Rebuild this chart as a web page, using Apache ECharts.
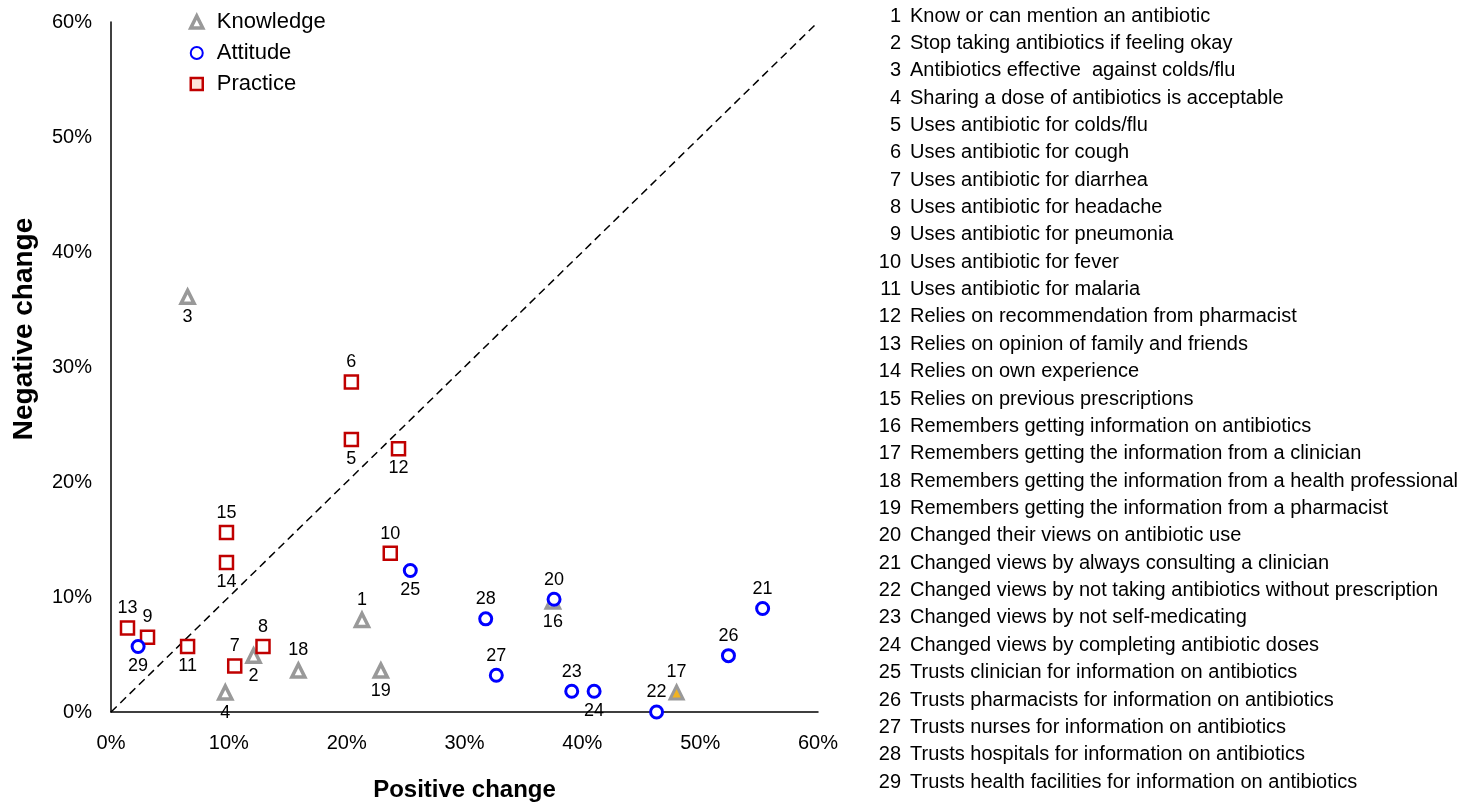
<!DOCTYPE html>
<html>
<head>
<meta charset="utf-8">
<script src="https://cdn.jsdelivr.net/npm/echarts@6/dist/echarts.min.js"></script>
<style>html,body{margin:0;padding:0;background:#fff;overflow:hidden;}#chart{width:1468px;height:803px;}</style>
</head>
<body>
<div id="chart"></div>
<script>
// ---- data ----
const tickLabels = ['0%','10%','20%','30%','40%','50%','60%'];

const knowledgeIds = [1, 2, 3, 4, 16, 17, 18, 19];
const knowledgeX   = [21.3, 12.1, 6.5, 9.7, 37.5, 48.0, 15.9, 22.9];
const knowledgeY   = [8.0, 4.9, 36.1, 1.7, 9.6, 1.7, 3.6, 3.6];

const attitudeIds = [20, 21, 22, 23, 24, 25, 26, 27, 28, 29];
const attitudeX   = [37.6, 55.3, 46.3, 39.1, 41.0, 25.4, 52.4, 32.7, 31.8, 2.3];
const attitudeY   = [9.8, 9.0, 0.0, 1.8, 1.8, 12.3, 4.9, 3.2, 8.1, 5.7];

const practiceIds = [5, 6, 7, 8, 9, 10, 11, 12, 13, 14, 15];
const practiceX   = [20.4, 20.4, 10.5, 12.9, 3.1, 23.7, 6.5, 24.4, 1.4, 9.8, 9.8];
const practiceY   = [23.7, 28.7, 4.0, 5.7, 6.5, 13.8, 5.7, 22.9, 7.3, 13.0, 15.6];

// items whose number label sits below the marker
const labelsBelow = [2, 3, 4, 5, 11, 12, 14, 16, 19, 24, 25, 29];

const itemNames = [
  'Know or can mention an antibiotic',
  'Stop taking antibiotics if feeling okay',
  'Antibiotics effective  against colds/flu',
  'Sharing a dose of antibiotics is acceptable',
  'Uses antibiotic for colds/flu',
  'Uses antibiotic for cough',
  'Uses antibiotic for diarrhea',
  'Uses antibiotic for headache',
  'Uses antibiotic for pneumonia',
  'Uses antibiotic for fever',
  'Uses antibiotic for malaria',
  'Relies on recommendation from pharmacist',
  'Relies on opinion of family and friends',
  'Relies on own experience',
  'Relies on previous prescriptions',
  'Remembers getting information on antibiotics',
  'Remembers getting the information from a clinician',
  'Remembers getting the information from a health professional',
  'Remembers getting the information from a pharmacist',
  'Changed their views on antibiotic use',
  'Changed views by always consulting a clinician',
  'Changed views by not taking antibiotics without prescription',
  'Changed views by not self-medicating',
  'Changed views by completing antibiotic doses',
  'Trusts clinician for information on antibiotics',
  'Trusts pharmacists for information on antibiotics',
  'Trusts nurses for information on antibiotics',
  'Trusts hospitals for information on antibiotics',
  'Trusts health facilities for information on antibiotics'
];

const diagonal = [[0, 0], [60, 60]];

// ---- build ----
const FONT = '"Liberation Sans", Arial, Helvetica, sans-serif';

function build(ids, xs, ys, special) {
  return ids.map((id, i) => {
    const d = {
      value: [xs[i], ys[i], id],
      label: { position: labelsBelow.indexOf(id) >= 0 ? 'bottom' : 'top' }
    };
    if (special && special[id]) d.itemStyle = special[id];
    return d;
  });
}

const labelCommon = {
  show: true,
  formatter: p => String(p.value[2]),
  color: '#000',
  fontSize: 18,
  fontFamily: FONT,
  distance: 3
};

const chart = echarts.init(document.getElementById('chart'), null, { renderer: 'canvas' });

const listGraphics = [];
itemNames.forEach((name, i) => {
  const yc = 16 + i * 27.36;
  listGraphics.push({
    type: 'text', x: 901, y: yc, silent: true,
    style: { text: String(i + 1), fill: '#000', font: '20px ' + FONT, align: 'right', verticalAlign: 'middle' }
  });
  listGraphics.push({
    type: 'text', x: 910, y: yc, silent: true,
    style: { text: name, fill: '#000', font: '20px ' + FONT, align: 'left', verticalAlign: 'middle' }
  });
});
listGraphics.push({
  type: 'text', x: 24, y: 329, rotation: Math.PI / 2, silent: true,
  style: { text: 'Negative change', fill: '#000', font: 'bold 28px ' + FONT, align: 'center', verticalAlign: 'middle' }
});

chart.setOption({
  animation: false,
  backgroundColor: '#fff',
  grid: { left: 111, right: 650, top: 22, bottom: 91, containLabel: false, outerBoundsMode: 'none' },
  legend: {
    orient: 'vertical',
    left: 189,
    top: 11,
    padding: 0,
    itemGap: 9,
    itemWidth: 12,
    itemHeight: 12,
    textStyle: { fontSize: 22, color: '#000', fontFamily: FONT, padding: [0, 0, 0, 9] },
    data: [
      { name: 'Knowledge', itemStyle: { color: '#fff', borderColor: '#999', borderWidth: 3.5 } },
      { name: 'Attitude' },
      { name: 'Practice', itemStyle: { color: '#fde6dc', borderColor: '#c00000', borderWidth: 2.5 } }
    ]
  },
  xAxis: {
    type: 'value', min: 0, max: 60, interval: 10,
    name: 'Positive change', nameLocation: 'middle', nameGap: 66,
    nameTextStyle: { fontSize: 24, fontWeight: 'bold', color: '#000', fontFamily: FONT },
    axisLine: { show: true, lineStyle: { color: '#000', width: 1.5 } },
    axisTick: { show: false },
    splitLine: { show: false },
    axisLabel: { formatter: v => tickLabels[Math.round(v / 10)], fontSize: 20, color: '#000', margin: 21, fontFamily: FONT }
  },
  yAxis: {
    type: 'value', min: 0, max: 60, interval: 10,
    axisLine: { show: true, lineStyle: { color: '#000', width: 1.5 } },
    axisTick: { show: false },
    splitLine: { show: false },
    axisLabel: { formatter: v => tickLabels[Math.round(v / 10)], fontSize: 20, color: '#000', margin: 19, fontFamily: FONT }
  },
  graphic: listGraphics,
  series: [
    {
      type: 'line', data: diagonal, symbol: 'none', silent: true,
      lineStyle: { color: '#000', width: 1.5, type: [8, 5] }, z: 1
    },
    {
      name: 'Knowledge', type: 'scatter', symbol: 'triangle', symbolSize: 13,
      itemStyle: { color: '#fff', borderColor: '#999', borderWidth: 3.5, opacity: 1 },
      label: labelCommon,
      data: build(knowledgeIds, knowledgeX, knowledgeY, { 17: { color: '#f0b323', borderColor: '#999', borderWidth: 3, opacity: 1 } }),
      z: 3
    },
    {
      name: 'Attitude', type: 'scatter', symbol: 'circle', symbolSize: 12,
      itemStyle: { color: '#fff', borderColor: '#0000ff', borderWidth: 3, opacity: 1 },
      label: labelCommon,
      data: build(attitudeIds, attitudeX, attitudeY),
      z: 4
    },
    {
      name: 'Practice', type: 'scatter', symbol: 'rect', symbolSize: 13,
      itemStyle: { color: '#fff', borderColor: '#c00000', borderWidth: 2.5, opacity: 1 },
      label: labelCommon,
      data: build(practiceIds, practiceX, practiceY),
      z: 3
    }
  ]
});
</script>
</body>
</html>
